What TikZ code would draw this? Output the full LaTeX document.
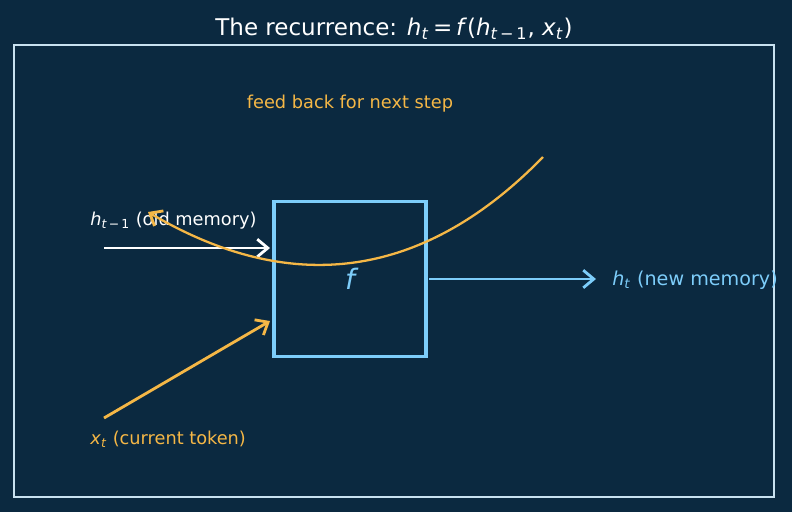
\documentclass[tikz,border=0pt]{standalone}
\usepackage{fontspec}
\setmainfont{DejaVu Sans}
\usetikzlibrary{arrows.meta}
\definecolor{bgnavy}{RGB}{11,41,64}
\definecolor{framecol}{RGB}{200,225,240}
\definecolor{skyblue}{RGB}{125,205,250}
\definecolor{amber}{RGB}{245,183,70}
\newcommand\mvar[1]{\textit{#1}}
\newcommand\msub[2]{\textit{#1}\textsubscript{#2}}
\tikzset{
  lbl/.style={font=\fontsize{10.1}{12}\selectfont, inner sep=0pt},
  flow/.style={line width=1.6pt, -{Straight Barb[length=6pt,width=10pt,line width=1.6pt]}},
}

\begin{document}
\begin{tikzpicture}[x=0.02cm, y=-0.02cm]
			%%%%% START %%%%%
			\fill[bgnavy] (0, 0) rectangle (792, 512);
			\useasboundingbox (0, 0) rectangle (792, 512);
			
			\node[white, font=\fontsize{13.1}{15}\selectfont] (title) at (394, 28.5)
			  {The recurrence: \msub{h}{\mvar{t}}\,=\,\mvar{f}(\msub{h}{\mvar{t}\,−\,1}, \msub{x}{\mvar{t}})};
			\draw[framecol, line width=0.85pt] (14, 45) rectangle (774, 497);
			
			% the cell
			\node[draw=skyblue, line width=2pt, minimum width=152*0.02cm, minimum height=155*0.02cm,
			  text=skyblue, font=\fontsize{16}{18}\selectfont\itshape] (cell) at (350, 279) {f};
			
			% old memory in
			\coordinate (hin) at (104, 248);
			\coordinate (hinend) at (270, 248);
			\node[lbl, white, anchor=west] (hlbl) at (90, 220.5) {\msub{h}{\mvar{t}\,−\,1} (old memory)};
			\draw[flow, white] (hin) -- (hinend);
			
			% token in
			\coordinate (xin) at (104, 418);
			\coordinate (xinend) at (270, 321);
			\node[lbl, amber, anchor=west] (xlbl) at (90, 439.5) {\msub{x}{\mvar{t}} (current token)};
			\draw[flow, amber] (xin) -- (xinend);
			
			% new memory out
			\coordinate (houtstart) at (429, 279);
			\coordinate (hout) at (596, 279);
			\node[lbl, skyblue, anchor=west, font=\fontsize{10.9}{13}\selectfont] (houtlbl) at (612, 280.5) {\msub{h}{\mvar{t}} (new memory)};
			\draw[flow, skyblue] (houtstart) -- (hout);
			
			% feedback loop
			\coordinate (fbstart) at (543, 157);
			\coordinate (fbend) at (148, 212);
			\node[lbl, amber] (fblbl) at (350, 103.5) {feed back for next step};
			\draw[flow, amber, line width=1.3pt] (fbstart) .. controls (424, 279) and (292, 297) .. (fbend);
			%%%%% END %%%%%
\end{tikzpicture}
\end{document}
